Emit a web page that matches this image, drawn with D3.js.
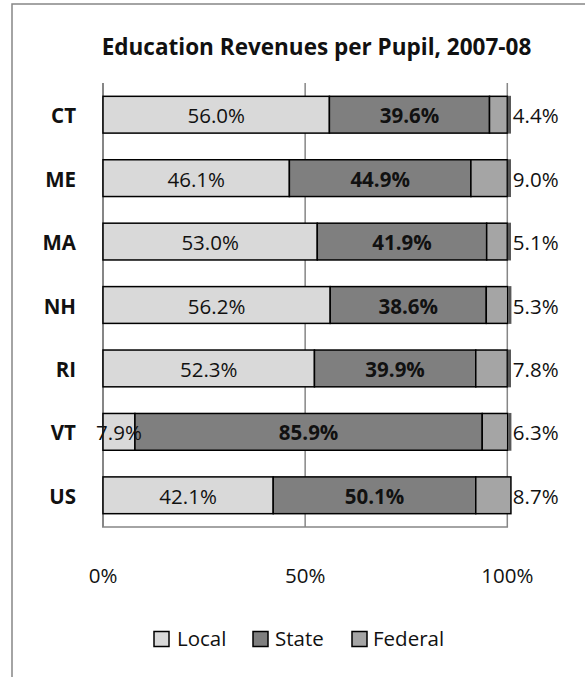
<!DOCTYPE html>
<html>
<head>
<meta charset="utf-8">
<script src="https://cdn.jsdelivr.net/npm/d3@7"></script>
<style>
  html, body { margin: 0; padding: 0; background: #fff; }
  svg { display: block; font-family: "Open Sans", Lato, sans-serif; }
</style>
</head>
<body>
<svg id="chart" width="585" height="677"></svg>
<script>
// Education revenue shares by source, 2007-08 (percent of total)
const states  = ["CT", "ME", "MA", "NH", "RI", "VT", "US"];
const local   = [56.0, 46.1, 53.0, 56.2, 52.3, 7.9, 42.1];
const state   = [39.6, 44.9, 41.9, 38.6, 39.9, 85.9, 50.1];
const federal = [4.4, 9.0, 5.1, 5.3, 7.8, 6.3, 8.7];
const seriesNames = ["Local", "State", "Federal"];
const tickValues = [0, 50, 100];
const titleText = "Education Revenues per Pupil, 2007-08";

const colors = { Local: "#d9d9d9", State: "#7f7f7f", Federal: "#a5a5a5" };
const gridColor = "#868686";
const textColor = "#111";

const svg = d3.select("#chart");

// outer chart frame (runs off the right and bottom edges)
svg.append("rect")
  .attr("x", 12).attr("y", 4)
  .attr("width", 600).attr("height", 700)
  .attr("fill", "none").attr("stroke", gridColor).attr("stroke-width", 1.5);

const plot = { left: 103, right: 507.3, top: 83, bottom: 527 };

const x = d3.scaleLinear().domain([0, 100]).range([plot.left, plot.right]);
const y = d3.scaleBand().domain(states)
  .range([plot.top, plot.bottom])
  .paddingInner(0.42).paddingOuter(0.21);

// table of rows built from the arrays
const rows = states.map((s, i) => ({
  name: s,
  Local: local[i], State: state[i], Federal: federal[i]
}));
const stack = d3.stack().keys(seriesNames)(rows);

// vertical gridlines
svg.append("g").selectAll("line")
  .data(tickValues)
  .join("line")
  .attr("x1", d => x(d)).attr("x2", d => x(d))
  .attr("y1", plot.top).attr("y2", plot.bottom)
  .attr("stroke", gridColor)
  .attr("stroke-width", d => d === 0 ? 2 : 1.5);

// bottom axis line
svg.append("line")
  .attr("x1", x(0) - 1).attr("x2", x(100) + 0.75)
  .attr("y1", plot.bottom).attr("y2", plot.bottom)
  .attr("stroke", gridColor).attr("stroke-width", 1.5);

// stacked bars
const layers = svg.append("g").selectAll("g")
  .data(stack)
  .join("g")
  .attr("fill", d => colors[d.key]);

layers.selectAll("rect")
  .data(d => d)
  .join("rect")
  .attr("x", d => x(d[0]))
  .attr("y", d => y(d.data.name))
  .attr("width", d => x(d[1]) - x(d[0]))
  .attr("height", y.bandwidth())
  .attr("stroke", "#000")
  .attr("stroke-width", 1.5);

// dark end cap on bars that close at 100%
const fedLayer = stack[stack.length - 1];
svg.append("g").selectAll("rect")
  .data(fedLayer.filter(d => d[1] < 100.5))
  .join("rect")
  .attr("x", d => x(d[1]) + 0.5)
  .attr("y", d => y(d.data.name) - 0.5)
  .attr("width", 3.2)
  .attr("height", y.bandwidth() + 1)
  .attr("fill", "#595959");

const fmt = v => v.toFixed(1) + "%";
const valueSize = 20.5;
const midY = d => y(d.data.name) + y.bandwidth() / 2;

// local labels, centred in the segment
svg.append("g").selectAll("text")
  .data(stack[0])
  .join("text")
  .attr("x", d => (x(d[0]) + x(d[1])) / 2)
  .attr("y", midY)
  .attr("dy", "0.42em")
  .attr("text-anchor", "middle")
  .attr("font-size", valueSize)
  .attr("fill", textColor)
  .text(d => fmt(d.data.Local));

// state labels, bold, centred in the segment
svg.append("g").selectAll("text")
  .data(stack[1])
  .join("text")
  .attr("x", d => (x(d[0]) + x(d[1])) / 2)
  .attr("y", midY)
  .attr("dy", "0.42em")
  .attr("text-anchor", "middle")
  .attr("font-size", valueSize)
  .attr("font-weight", "bold")
  .attr("fill", textColor)
  .text(d => fmt(d.data.State));

// federal labels, just past the bar end
svg.append("g").selectAll("text")
  .data(stack[2])
  .join("text")
  .attr("x", x(100) + 5.5)
  .attr("y", midY)
  .attr("dy", "0.42em")
  .attr("text-anchor", "start")
  .attr("font-size", valueSize)
  .attr("fill", textColor)
  .text(d => fmt(d.data.Federal));

// category labels
svg.append("g").selectAll("text")
  .data(states)
  .join("text")
  .attr("x", 76)
  .attr("y", d => y(d) + y.bandwidth() / 2)
  .attr("dy", "0.42em")
  .attr("text-anchor", "end")
  .attr("font-size", 20.5)
  .attr("font-weight", "bold")
  .attr("fill", textColor)
  .text(d => d);

// tick labels
svg.append("g").selectAll("text")
  .data(tickValues)
  .join("text")
  .attr("x", d => x(d))
  .attr("y", 583)
  .attr("text-anchor", "middle")
  .attr("font-size", 20.5)
  .attr("fill", textColor)
  .text(d => d + "%");

// title, sized to span its measured width
const title = svg.append("text")
  .attr("x", 316.5)
  .attr("y", 55)
  .attr("text-anchor", "middle")
  .attr("font-size", 20)
  .attr("font-weight", "bold")
  .attr("fill", textColor)
  .text(titleText);
const tw = title.node().getComputedTextLength();
title.attr("font-size", Math.min(23, 20 * 430 / tw));

// legend
const legendItems = [
  { name: "Local", box: 154, text: 177 },
  { name: "State", box: 253, text: 275 },
  { name: "Federal", box: 352, text: 373 }
];
const legend = svg.append("g").selectAll("g")
  .data(legendItems)
  .join("g");
legend.append("rect")
  .attr("x", d => d.box).attr("y", 631.5)
  .attr("width", 15).attr("height", 15)
  .attr("fill", d => colors[d.name])
  .attr("stroke", "#000").attr("stroke-width", 1.5);
legend.append("text")
  .attr("x", d => d.text).attr("y", 646)
  .attr("font-size", 20.5)
  .attr("fill", textColor)
  .text(d => d.name);
</script>
</body>
</html>
